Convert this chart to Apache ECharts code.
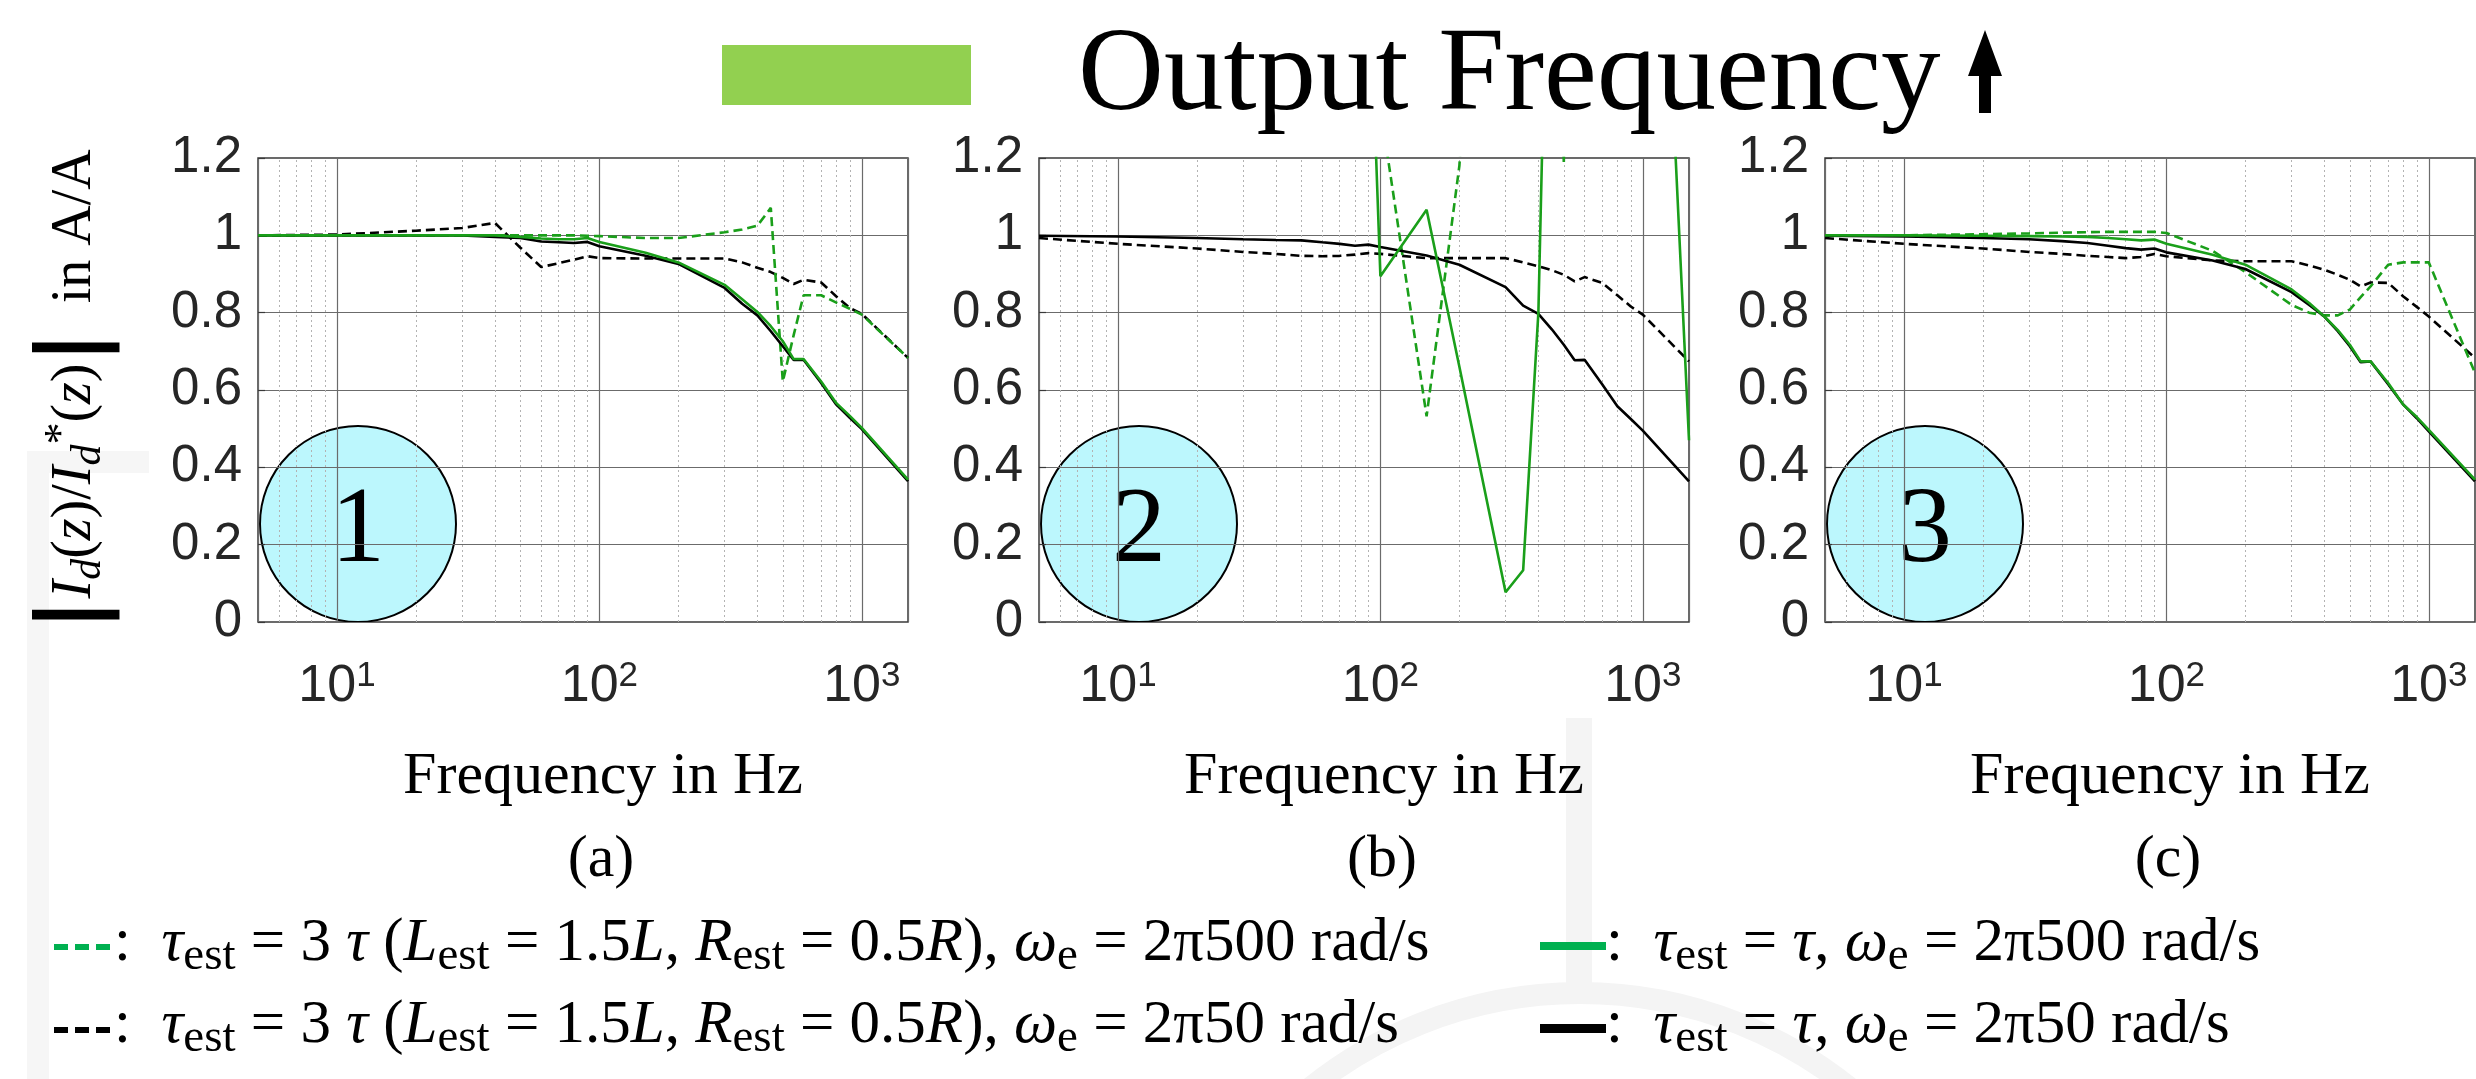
<!DOCTYPE html>
<html>
<head>
<meta charset="utf-8">
<script src="https://cdn.jsdelivr.net/npm/echarts@6/dist/echarts.min.js"></script>
<style>
  html, body { margin: 0; padding: 0; background: #fff; }
  #chart { width: 2476px; height: 1079px; }
</style>
</head>
<body>
<div id="chart"></div>
<script>
// sample frequencies (Hz), shared by every curve
const freqs = [5, 10, 20, 30, 40, 50, 60, 70, 80, 90, 100, 150, 200, 300, 350, 400, 450, 500, 550, 600, 700, 800, 900, 1000, 1500];

// (a)
const aBlackDash = [1.0, 1.002, 1.012, 1.019, 1.032, 0.968, 0.918, 0.928, 0.937, 0.946, 0.941, 0.94, 0.94, 0.94, 0.93, 0.916, 0.905, 0.89, 0.874, 0.885, 0.878, 0.842, 0.812, 0.797, 0.683];
const aGreenDash = [1.0, 1.0, 1.0, 1.0, 1.0, 1.0, 1.0, 1.0, 1.0, 0.999, 0.998, 0.993, 0.993, 1.008, 1.015, 1.025, 1.071, 0.622, 0.742, 0.845, 0.845, 0.826, 0.81, 0.795, 0.683];
const aBlackSolid = [1.0, 1.0, 1.0, 1.0, 0.996, 0.993, 0.984, 0.982, 0.98, 0.983, 0.972, 0.947, 0.926, 0.864, 0.823, 0.793, 0.752, 0.713, 0.678, 0.678, 0.618, 0.562, 0.528, 0.499, 0.364];
const aGreenSolid = [1.0, 1.0, 1.0, 1.0, 1.0, 0.996, 0.992, 0.99, 0.99, 0.993, 0.983, 0.955, 0.93, 0.872, 0.835, 0.802, 0.765, 0.726, 0.68, 0.68, 0.622, 0.566, 0.533, 0.502, 0.368];

// (b)
const bBlackDash = [0.993, 0.978, 0.966, 0.957, 0.952, 0.947, 0.946, 0.947, 0.95, 0.954, 0.952, 0.941, 0.941, 0.941, 0.93, 0.92, 0.91, 0.898, 0.881, 0.892, 0.877, 0.845, 0.816, 0.795, 0.674];
const bGreenDash = [null, null, null, null, null, null, null, null, null, null, 1.33, 0.532, 1.18, 3.0, null, null, null, null, null, null, null, null, null, null, null];
const bBlackSolid = [0.999, 0.997, 0.993, 0.99, 0.988, 0.987, 0.982, 0.978, 0.973, 0.976, 0.97, 0.948, 0.924, 0.866, 0.818, 0.797, 0.757, 0.717, 0.677, 0.678, 0.615, 0.558, 0.525, 0.495, 0.364];
const bGreenSolid = [null, null, null, null, null, null, null, null, null, 1.76, 0.894, 1.066, 0.66, 0.077, 0.134, 0.8, 2.3, 1.19, 2.5, 3.0, 3.0, 3.0, 3.0, 3.0, 0.47];

// (c)
const cBlackDash = [0.993, 0.978, 0.966, 0.957, 0.952, 0.947, 0.944, 0.941, 0.944, 0.952, 0.946, 0.935, 0.933, 0.933, 0.922, 0.911, 0.898, 0.885, 0.868, 0.878, 0.877, 0.842, 0.815, 0.79, 0.683];
const cGreenDash = [1.0, 1.0, 1.003, 1.005, 1.007, 1.008, 1.009, 1.009, 1.009, 1.009, 1.006, 0.96, 0.905, 0.82, 0.8, 0.793, 0.793, 0.808, 0.84, 0.868, 0.924, 0.93, 0.93, 0.93, 0.644];
const cBlackSolid = [0.999, 0.997, 0.993, 0.99, 0.985, 0.98, 0.973, 0.967, 0.963, 0.966, 0.956, 0.935, 0.913, 0.853, 0.82, 0.79, 0.752, 0.713, 0.672, 0.674, 0.615, 0.562, 0.527, 0.493, 0.364];
const cGreenSolid = [1.0, 1.0, 0.999, 0.998, 0.997, 0.996, 0.993, 0.99, 0.987, 0.989, 0.978, 0.95, 0.924, 0.86, 0.825, 0.79, 0.755, 0.717, 0.674, 0.674, 0.618, 0.562, 0.53, 0.497, 0.368];

// dotted minor grid of the log axis
const minorFreqs = [6, 7, 8, 9, 20, 30, 40, 50, 60, 70, 80, 90, 200, 300, 400, 500, 600, 700, 800, 900];
const panelLabels = ['(a)', '(b)', '(c)'];
const circleLabels = ['1', '2', '3'];

const GREEN = '#1a9f1a';
const LEG_GREEN = '#00b050';
const AXIS_TXT = '#262626';
const SERIF = '"Liberation Serif", "Times New Roman", serif';
const SANS = '"Liberation Sans", Arial, sans-serif';

const lefts = [258, 1039, 1825];
const TOP = 158, W = 650, H = 464;

const panels = [
  [aBlackDash, aGreenDash, aBlackSolid, aGreenSolid],
  [bBlackDash, bGreenDash, bBlackSolid, bGreenSolid],
  [cBlackDash, cGreenDash, cBlackSolid, cGreenSolid]
];

function pairs(vals) {
  return freqs.map((f, k) => [f, vals[k]]).filter(p => p[1] != null);
}

function line(name, vals, i, color, dashed) {
  return {
    name: name, type: 'line', xAxisIndex: i, yAxisIndex: i,
    data: pairs(vals), showSymbol: false, symbol: 'none', clip: true,
    silent: true, animation: false, z: 3,
    lineStyle: { color: color, width: 2.6, type: dashed ? [9, 5] : 'solid' }
  };
}

const series = [];
panels.forEach((p, i) => {
  const bd = line('bd', p[0], i, '#000', true);
  bd.markLine = {
    silent: true, symbol: ['none', 'none'], z: 1, animation: false,
    label: { show: false },
    lineStyle: { color: '#b3b3b3', width: 1, type: [2, 3] },
    data: minorFreqs.map(f => ({ xAxis: f }))
  };
  series.push(bd);
  series.push(line('gd', p[1], i, GREEN, true));
  series.push(line('bs', p[2], i, '#000', false));
  series.push(line('gs', p[3], i, GREEN, false));
});

const yName = '{bar||}{i|I}{sub|d}{t|(}{i|z}{t|)/}{i|I}{sub|d}{sup|*}{t|(}{i|z}{t|)}{bar||}{t|  in A/A}';

const option = {
  backgroundColor: '#fff',
  animation: false,
  grid: lefts.map(l => ({
    left: l, top: TOP, width: W, height: H, show: true,
    borderColor: '#3a3a3a', borderWidth: 1.5, outerBoundsMode: 'none', containLabel: false
  })),
  xAxis: lefts.map((l, i) => ({
    type: 'log', logBase: 10, min: 5, max: 1500, gridIndex: i,
    name: 'Frequency in Hz', nameLocation: 'middle', nameGap: 125, nameMoveOverlap: false,
    nameTextStyle: { fontFamily: SERIF, fontSize: 60, lineHeight: 60, color: '#000', padding: [0, 0, 0, 40] },
    axisLine: { show: false },
    axisTick: { show: false },
    axisLabel: {
      margin: 37, showMinLabel: false, showMaxLabel: false,
      formatter: v => {
        const e = Math.log10(v);
        if (Math.abs(e - Math.round(e)) > 1e-6) return '';
        return '{b|10}{s|' + Math.round(e) + '}';
      },
      rich: {
        b: { fontFamily: SANS, fontSize: 52, lineHeight: 56, color: AXIS_TXT },
        s: { fontFamily: SANS, fontSize: 35, lineHeight: 16, verticalAlign: 'top', color: AXIS_TXT }
      }
    },
    splitLine: { show: true, lineStyle: { color: '#6b6b6b', width: 1.2 } }
  })),
  yAxis: lefts.map((l, i) => ({
    type: 'value', min: 0, max: 1.2, interval: 0.2, gridIndex: i,
    axisLine: { show: false },
    axisTick: { show: true, inside: true, length: 7, lineStyle: { color: '#3a3a3a', width: 1.2 } },
    axisLabel: { fontFamily: SANS, fontSize: 51, color: AXIS_TXT, margin: 16 },
    splitLine: { lineStyle: { color: '#6b6b6b', width: 1.2 } },
    name: i === 0 ? yName : '',
    nameLocation: 'middle', nameRotate: 90, nameGap: 148, nameMoveOverlap: false,
    nameTextStyle: {
      rich: {
        t: { fontFamily: SERIF, fontSize: 56, lineHeight: 70, color: '#000' },
        i: { fontFamily: SERIF, fontSize: 56, lineHeight: 70, fontStyle: 'italic', color: '#000' },
        sub: { fontFamily: SERIF, fontSize: 42, lineHeight: 40, fontStyle: 'italic', verticalAlign: 'bottom', color: '#000' },
        sup: { fontFamily: SERIF, fontSize: 44, lineHeight: 30, verticalAlign: 'top', color: '#000' },
        bar: { fontFamily: '"DejaVu Sans"', fontWeight: 'bold', fontSize: 88, lineHeight: 70, color: '#000' }
      }
    }
  })),
  series: series,
  graphic: [{
    elements: [].concat(
      // faint background marks
      [
        { type: 'rect', z: -10, silent: true, shape: { x: 27, y: 451, width: 22, height: 628 }, style: { fill: '#f6f6f6' } },
        { type: 'rect', z: -10, silent: true, shape: { x: 27, y: 451, width: 122, height: 22 }, style: { fill: '#f6f6f6' } },
        { type: 'rect', z: -10, silent: true, shape: { x: 1566, y: 718, width: 26, height: 276 }, style: { fill: '#f4f4f4' } },
        { type: 'circle', z: -10, silent: true, shape: { cx: 1580, cy: 1423, r: 430 }, style: { fill: 'none', stroke: '#f4f4f4', lineWidth: 22 } }
      ],
      // title
      [
        { type: 'rect', shape: { x: 722, y: 45, width: 249, height: 60 }, style: { fill: '#92d050' } },
        { type: 'text', style: { text: 'Output Frequency', x: 1078, y: 78, font: '119px ' + SERIF, fill: '#000', verticalAlign: 'middle' } },
        { type: 'polygon', shape: { points: [[1985, 30], [2002, 76], [1991, 76], [1991, 113], [1979, 113], [1979, 76], [1968, 76]] }, style: { fill: '#000' } }
      ],
      // panel circles and subtitles
      lefts.map((l, i) => ({
        type: 'group', z: 100, children: [
          { type: 'circle', shape: { cx: l + 100, cy: 524, r: 98 }, style: { fill: '#bcf7fd', stroke: '#000', lineWidth: 2 } },
          { type: 'text', style: { text: circleLabels[i], x: l + 100, y: 533, font: '108px ' + SERIF, fill: '#000', align: 'center', verticalAlign: 'middle' } }
        ]
      })),
      lefts.map((l, i) => ({
        type: 'text', style: { text: panelLabels[i], x: l + 343, y: 860, font: '60px ' + SERIF, fill: '#000', align: 'center', verticalAlign: 'middle' }
      })),
      // legend symbols
      [
        { type: 'rect', shape: { x: 54, y: 944, width: 14, height: 6 }, style: { fill: LEG_GREEN } },
        { type: 'rect', shape: { x: 75, y: 944, width: 14, height: 6 }, style: { fill: LEG_GREEN } },
        { type: 'rect', shape: { x: 96, y: 944, width: 14, height: 6 }, style: { fill: LEG_GREEN } },
        { type: 'rect', shape: { x: 54, y: 1027, width: 14, height: 6 }, style: { fill: '#000' } },
        { type: 'rect', shape: { x: 75, y: 1027, width: 14, height: 6 }, style: { fill: '#000' } },
        { type: 'rect', shape: { x: 96, y: 1027, width: 14, height: 6 }, style: { fill: '#000' } },
        { type: 'rect', shape: { x: 1540, y: 942, width: 66, height: 8 }, style: { fill: LEG_GREEN } },
        { type: 'rect', shape: { x: 1540, y: 1024, width: 66, height: 9 }, style: { fill: '#000' } }
      ],
      // legend texts
      [
        [114, 944, ':  {i|τ}{s|est} = 3 {i|τ} ({i|L}{s|est} = 1.5{i|L}, {i|R}{s|est} = 0.5{i|R}), {i|ω}{s|e} = 2π500 rad/s'],
        [114, 1026, ':  {i|τ}{s|est} = 3 {i|τ} ({i|L}{s|est} = 1.5{i|L}, {i|R}{s|est} = 0.5{i|R}), {i|ω}{s|e} = 2π50 rad/s'],
        [1606, 944, ':  {i|τ}{s|est} = {i|τ}, {i|ω}{s|e} = 2π500 rad/s'],
        [1606, 1026, ':  {i|τ}{s|est} = {i|τ}, {i|ω}{s|e} = 2π50 rad/s']
      ].map(r => ({
        type: 'text', style: {
          text: r[2], x: r[0], y: r[1], fontFamily: SERIF, fontSize: 61, lineHeight: 72, fill: '#000',
          align: 'left', verticalAlign: 'middle',
          rich: {
            i: { fontFamily: SERIF, fontSize: 61, lineHeight: 72, fontStyle: 'italic', fill: '#000' },
            s: { fontFamily: SERIF, fontSize: 47, lineHeight: 40, verticalAlign: 'bottom', fill: '#000' }
          }
        }
      }))
    )
  }]
};

const chart = echarts.init(document.getElementById('chart'), null, { renderer: 'canvas' });
chart.setOption(option);
window.onresize = function () { chart.resize(); };
</script>
</body>
</html>
